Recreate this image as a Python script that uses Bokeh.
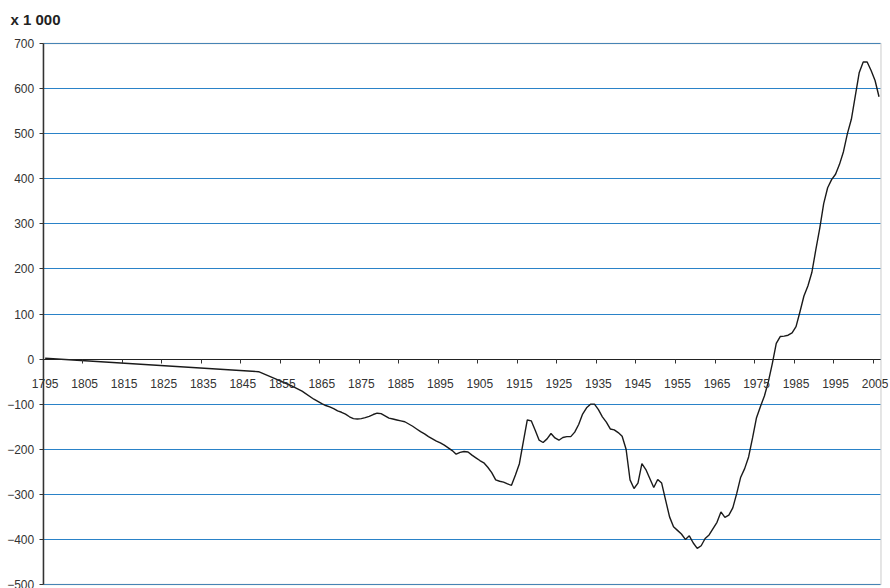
from bokeh.plotting import figure
from bokeh.models import Range1d, FixedTicker, LinearAxis, BoxAnnotation
from bokeh.embed import file_html
from bokeh.resources import INLINE

years = [1795, 1849, 1853, 1857, 1860, 1863, 1865, 1866, 1867, 1868, 1869, 1870,
         1871, 1872, 1873, 1874, 1875, 1876, 1877, 1878, 1879, 1880, 1881, 1882,
         1883, 1884, 1885, 1886, 1887, 1888, 1889, 1890, 1891, 1892, 1893, 1894,
         1895, 1896, 1897, 1898, 1899, 1900, 1901, 1902, 1903, 1904, 1905, 1906,
         1907, 1908, 1909, 1910, 1911, 1912, 1913, 1914, 1915, 1916, 1917, 1918,
         1919, 1920, 1921, 1922, 1923, 1924, 1925, 1926, 1927, 1928, 1929, 1930,
         1931, 1932, 1933, 1934, 1935, 1936, 1937, 1938, 1939, 1940, 1941, 1942,
         1943, 1944, 1945, 1946, 1947, 1948, 1949, 1950, 1951, 1952, 1953, 1954,
         1955, 1956, 1957, 1958, 1959, 1960, 1961, 1962, 1963, 1964, 1965, 1966,
         1967, 1968, 1969, 1970, 1971, 1972, 1973, 1974, 1975, 1976, 1977, 1978,
         1979, 1980, 1981, 1982, 1983, 1984, 1985, 1986, 1987, 1988, 1989, 1990,
         1991, 1992, 1993, 1994, 1995, 1996, 1997, 1998, 1999, 2000, 2001, 2002,
         2003, 2004, 2005, 2006]
values = [2, -28, -43, -58, -71, -89, -99, -103, -106, -110, -115, -118,
          -122, -128, -132, -133, -132, -130, -127, -123, -120, -121, -126, -131,
          -133, -135, -137, -139, -144, -149, -155, -161, -166, -172, -177, -182,
          -186, -191, -197, -203, -211, -207, -205, -206, -213, -219, -225, -230,
          -240, -252, -268, -271, -273, -277, -280, -257, -232, -183, -135, -137,
          -158, -180, -185, -177, -165, -175, -180, -174, -172, -172, -162, -145,
          -122, -108, -100, -100, -112, -128, -140, -155, -157, -163, -171, -200,
          -268, -287, -275, -232, -245, -265, -285, -267, -275, -313, -350, -372,
          -380, -388, -400, -392, -408, -420, -414, -398, -390, -376, -362, -339,
          -351, -346, -330, -298, -262, -243, -217, -175, -130, -105, -82, -50,
          -10, 35, 50, 51, 53, 58, 72, 105, 140, 162, 192, 242,
          290, 345, 380, 398, 410, 432, 460, 500, 532, 584, 636, 659,
          659, 640, 618, 582]

x_label_years = [1795, 1805, 1815, 1825, 1835, 1845, 1855, 1865, 1875, 1885, 1895,
                 1905, 1915, 1925, 1935, 1945, 1955, 1965, 1975, 1985, 1995, 2005]
y_ticks = [-500, -400, -300, -200, -100, 0, 100, 200, 300, 400, 500, 600, 700]

FONT = "Liberation Sans"
X0, X1 = 1794.5, 2006.5      # plot-area extent (category edges)
Y0, Y1 = -500, 700

p = figure(width=890, height=588, output_backend="svg", toolbar_location=None,
           x_range=Range1d(1783.7, 2008.4), y_range=Range1d(-508.9, 728.9),
           x_axis_location=None, min_border_left=0, min_border_right=2,
           min_border_top=30, min_border_bottom=0)
p.frame_width = 888
p.frame_height = 558

p.title.text = "x 1 000"
p.title.text_font = FONT
p.title.text_font_size = "15px"
p.title.text_font_style = "bold"
p.title.text_color = "#222222"
p.title.align = "left"
p.title.offset = 10
p.title.standoff = 6

p.outline_line_color = None
p.background_fill_color = "white"
p.border_fill_color = "white"

p.xgrid.visible = False
p.ygrid.ticker = FixedTicker(ticks=y_ticks)
p.ygrid.grid_line_color = "#2a82c8"
p.ygrid.grid_line_width = 1
p.ygrid.cross_bounds = (X0, X1)

ax = p.yaxis[0]
ax.ticker = FixedTicker(ticks=y_ticks)
ax.fixed_location = X0
ax.bounds = (Y0, Y1)
ax.axis_line_color = "#333333"
ax.axis_line_width = 1.5
ax.major_tick_line_color = "#333333"
ax.major_tick_in = 0
ax.major_tick_out = 4
ax.minor_tick_line_color = None
ax.major_label_text_font = FONT
ax.major_label_text_font_size = "12px"
ax.major_label_text_color = "#333333"
ax.major_label_standoff = 5

# plot-area border (top / right / bottom)
p.add_layout(BoxAnnotation(left=X0, right=X1, bottom=Y0, top=Y1, fill_color=None,
                           line_color="#8c8c8c", line_width=1.5, level="glyph"))

# category axis at y = 0: tick marks between categories, labels on categories
tick_x = [y - 0.5 for y in x_label_years]
tick_axis = LinearAxis(ticker=FixedTicker(ticks=tick_x), fixed_location=0,
                       bounds=(X0, X1),
                       major_label_overrides={t: "" for t in tick_x},
                       axis_line_color="#222222", axis_line_width=1.2,
                       major_tick_line_color="#333333", major_tick_in=0,
                       major_tick_out=4, minor_tick_line_color=None)
label_axis = LinearAxis(ticker=FixedTicker(ticks=x_label_years), fixed_location=0,
                        axis_line_color=None, major_tick_line_color=None,
                        minor_tick_line_color=None, major_label_standoff=14,
                        major_label_text_font=FONT, major_label_text_font_size="12px",
                        major_label_text_color="#333333")
p.add_layout(tick_axis, "below")
p.add_layout(label_axis, "below")

p.line(years, values, line_color="#1a1a1a", line_width=1.4)

open("out.html", "w").write(file_html(p, INLINE))
